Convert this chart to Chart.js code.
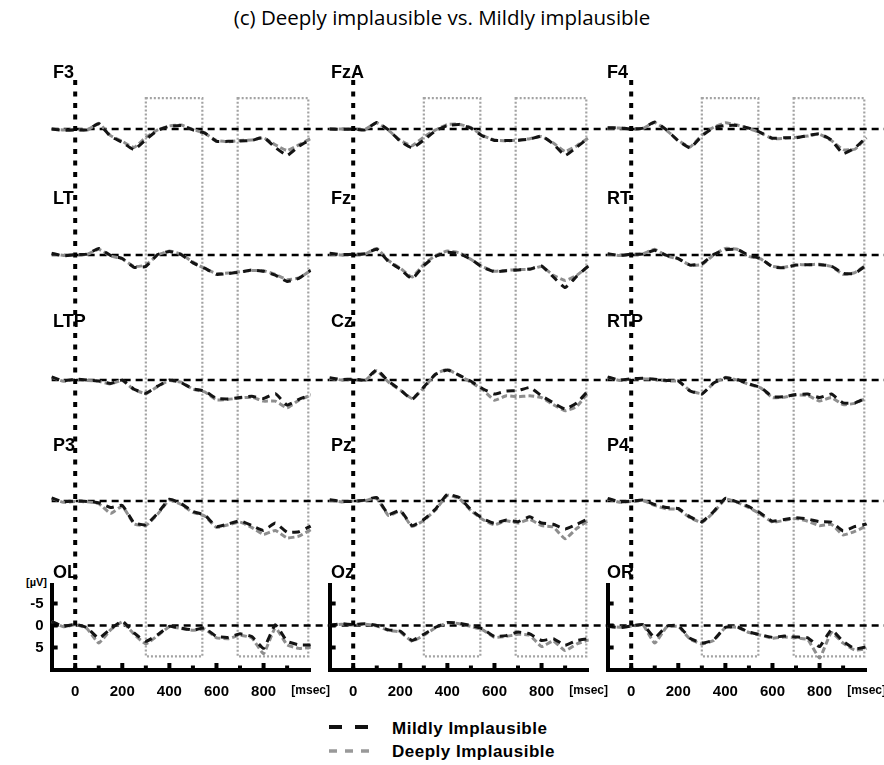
<!DOCTYPE html>
<html>
<head>
<meta charset="utf-8">
<script src="https://cdn.jsdelivr.net/npm/chart.js@4.4.0/dist/chart.umd.min.js"></script>
<style>
  html, body { margin: 0; padding: 0; background: #fff; }
  #page { position: relative; width: 884px; height: 765px; overflow: hidden; background: #fff; }
  #page canvas { position: absolute; left: 0; top: 0; }
  .txt { position: absolute; color: #000; white-space: nowrap; }
  .chan { font: bold 18px "Liberation Sans", Arial, sans-serif; line-height: 18px; }
  #title { left: 0; width: 884px; top: 7px; text-align: center; font: 20.5px "Open Sans", sans-serif; line-height: 20.5px; }
  #unit { left: 26px; top: 577px; font: bold 11px "Liberation Sans", Arial, sans-serif; line-height: 11px; }
  .leg { font: bold 17px "Liberation Sans", Arial, sans-serif; line-height: 17px; letter-spacing: 0.5px; }
  .swatch { position: absolute; }
</style>
</head>
<body>
<div id="page">
  <div id="title" class="txt">(c) Deeply implausible vs. Mildly implausible</div>
  <div id="unit" class="txt">[µV]</div>
  <svg class="swatch" style="left:329px;top:723px" width="42" height="8"><line x1="0" y1="4" x2="42" y2="4" stroke="#111" stroke-width="4" stroke-dasharray="13 13"/></svg>
  <svg class="swatch" style="left:329px;top:747px" width="42" height="8"><line x1="0" y1="4" x2="42" y2="4" stroke="#999" stroke-width="3.5" stroke-dasharray="8 8"/></svg>
  <div class="txt leg" style="left:392px;top:720px">Mildly Implausible</div>
  <div class="txt leg" style="left:392px;top:743px">Deeply Implausible</div>
</div>
<script>
// time axis (ms) shared by every channel
const time = [-100, -50, 0, 50, 100, 150, 200, 250, 300, 350, 400, 450, 500, 550, 600, 650, 700, 750, 800, 850, 900, 950, 1000, 1050];

// amplitudes in µV (positive plotted downward)
const mildF3  = [0, 0.3, 0.2, 0.2, -1.2, 1.7, 3.0, 4.7, 2.4, 0.3, -0.6, -0.8, 0.2, 0.9, 2.8, 2.8, 2.7, 2.6, 1.9, 4.2, 6.0, 3.9, 2.4, 1.4];
const deepF3  = [0, 0.2, 0.1, 0.3, -1.3, 1.5, 2.8, 4.2, 1.9, 0.2, -0.7, -0.9, 0.1, 1.0, 2.6, 2.9, 2.6, 2.5, 2.0, 3.6, 4.9, 3.6, 2.2, 1.4];
const mildFzA = [0, 0.1, 0, 0.2, -1.5, 0.2, 2.8, 4.3, 2.5, 0.4, -0.8, -1.0, -0.2, 1.6, 2.6, 2.6, 2.6, 2.3, 1.6, 3.4, 6.0, 4.1, 2.0, 0];
const deepFzA = [0, 0, 0.1, 0.1, -1.4, 0.3, 2.6, 3.8, 1.8, 0.2, -1.0, -1.1, -0.3, 1.5, 2.5, 2.7, 2.5, 2.2, 1.7, 3.2, 5.1, 3.8, 2.0, 0];
const mildF4  = [-0.3, -0.3, 0, -0.2, -1.6, 0.2, 2.7, 4.3, 1.6, -0.3, -0.8, -0.8, -0.2, 0.8, 2.1, 2.0, 2.0, 1.5, 1.1, 2.5, 5.6, 4.3, 1.9, 1.1];
const deepF4  = [-0.2, -0.2, 0.1, -0.1, -1.5, 0.3, 2.6, 4.1, 1.4, -0.4, -1.4, -0.9, -0.1, 0.9, 2.2, 2.1, 1.9, 1.6, 1.2, 2.6, 4.7, 4.6, 2.0, 1.1];

const mildLT  = [-0.4, 0.2, -0.1, -0.2, -1.5, 0.1, 0.8, 2.8, 2.6, -0.1, -0.8, -0.1, 1.8, 3.0, 4.4, 4.2, 3.9, 3.4, 3.7, 4.6, 6.0, 5.3, 3.5, 3.1];
const deepLT  = [-0.3, 0.1, 0, -0.1, -1.3, 0.2, 0.9, 2.6, 2.3, 0, -0.9, -0.2, 1.6, 3.1, 4.2, 4.1, 3.8, 3.5, 3.6, 4.4, 5.6, 5.2, 3.6, 3.0];
const mildFz  = [-0.4, -0.1, -0.1, -0.3, -1.3, 1.5, 3.2, 5.4, 2.4, 0.3, -0.6, -0.3, 1.0, 2.8, 3.8, 3.6, 3.4, 3.2, 2.5, 5.0, 7.4, 4.8, 2.5, 1.7];
const deepFz  = [-0.3, 0, -0.2, -0.2, -1.5, 1.3, 3.0, 5.0, 2.1, 0.1, -0.9, -0.5, 1.0, 2.7, 3.7, 3.5, 3.3, 3.3, 2.6, 4.6, 5.8, 4.6, 2.5, 1.7];
const mildRT  = [-0.3, 0.1, -0.2, -0.2, -1.1, 0.1, 0.8, 2.3, 2.0, -0.1, -1.2, -1.3, 0.1, 0.8, 2.7, 2.9, 2.3, 2.2, 2.2, 2.5, 4.2, 4.2, 2.3, 1.6];
const deepRT  = [-0.2, 0.1, -0.1, -0.3, -1.3, 0.2, 0.9, 2.3, 2.2, 0, -1.5, -1.3, 0.3, 0.9, 2.6, 2.8, 2.2, 2.2, 2.1, 2.6, 4.4, 4.0, 2.2, 1.6];

const mildLTP = [-0.7, 0.2, -0.2, 0, 0.2, 0.8, 0, 2.1, 3.0, 1.4, 0, 0.6, 2.0, 2.5, 4.2, 4.3, 4.0, 3.7, 4.2, 3.1, 5.7, 4.4, 3.4, 3.3];
const deepLTP = [-0.6, 0.3, -0.1, 0.1, 0.3, 0.9, 0.1, 2.2, 3.1, 1.5, 0.1, 0.5, 2.1, 2.7, 4.5, 4.4, 4.1, 3.9, 4.8, 4.8, 6.3, 4.6, 3.5, 3.3];
const mildCz  = [-0.5, -0.1, -0.2, 0, -2.3, 0.3, 2.2, 4.4, 1.6, -1.3, -2.3, -1.1, 0.3, 2.0, 3.2, 2.5, 2.4, 1.7, 3.6, 5.2, 6.6, 5.2, 2.4, 1.6];
const deepCz  = [-0.4, 0, -0.1, 0.1, -2.1, 0.5, 2.3, 4.2, 1.8, -1.4, -2.4, -1.0, 0.5, 2.2, 4.6, 3.6, 3.8, 3.6, 4.0, 5.6, 7.0, 6.0, 2.8, 1.8];
const mildRTP = [-0.7, 0, -0.3, -0.4, -0.2, 0.1, 0.2, 2.5, 3.2, 0.7, -0.5, -0.1, 0.9, 1.7, 3.8, 3.8, 3.3, 3.2, 4.0, 3.2, 5.2, 5.2, 4.0, 3.0];
const deepRTP = [-0.6, 0.1, -0.2, -0.3, -0.1, 0.2, 0.3, 2.4, 3.1, 0.8, -0.6, 0, 1.0, 1.8, 4.0, 3.9, 3.4, 3.5, 4.8, 4.0, 5.6, 5.3, 4.1, 3.1];

const mildP3  = [-0.7, 0.2, 0, 0.1, 0.4, 1.5, 1.0, 5.0, 5.4, 2.8, -0.4, 0.6, 2.4, 3.2, 5.8, 5.2, 4.5, 5.6, 6.7, 5.0, 7.1, 7.0, 5.7, 4.1];
const deepP3  = [-0.6, 0.3, 0.1, 0.2, 0.6, 2.8, 1.2, 5.2, 5.6, 3.0, -0.2, 0.8, 2.6, 3.4, 6.0, 5.4, 4.8, 6.0, 7.6, 6.7, 8.4, 8.0, 6.5, 4.3];
const mildPz  = [-0.3, 0.1, 0.1, -0.2, -0.8, 3.1, 2.1, 5.6, 4.2, 1.8, -1.5, -0.8, 2.0, 4.0, 5.1, 4.3, 4.7, 3.6, 5.0, 5.3, 6.4, 5.3, 4.0, 3.1];
const deepPz  = [-0.2, 0.2, 0, -0.1, -0.6, 3.3, 2.3, 5.8, 4.4, 2.0, -1.3, -0.6, 2.2, 4.2, 5.4, 4.5, 5.0, 4.2, 5.6, 5.9, 8.6, 6.2, 4.4, 3.3];
const mildP4  = [-0.6, 0.2, 0, -0.2, 0.8, 1.5, 1.7, 3.6, 4.7, 2.4, -0.6, 0.2, 1.3, 2.8, 4.6, 4.2, 3.8, 4.1, 4.7, 4.8, 6.8, 5.8, 5.2, 3.2];
const deepP4  = [-0.5, 0.3, 0.1, -0.1, 1.0, 1.8, 1.9, 3.8, 4.9, 2.6, -0.4, 0.3, 1.5, 3.0, 4.8, 4.4, 4.0, 4.6, 5.6, 5.3, 7.7, 6.9, 5.6, 3.4];

const mildOL  = [-0.9, 0.2, -0.3, 0.5, 2.9, 0.8, -1.0, 1.7, 3.6, 2.1, 0.2, 0.6, 1.0, 0.6, 2.5, 2.7, 1.9, 2.5, 5.2, -0.2, 3.6, 4.4, 4.4, 3.3];
const deepOL  = [-0.9, 0.3, -0.2, 0.7, 4.0, 1.0, -0.8, 2.0, 4.2, 2.3, 0.3, 0.7, 1.1, 0.8, 2.8, 3.0, 2.2, 2.8, 6.4, 0.5, 4.4, 5.2, 4.9, 3.5];
const mildOz  = [0, -0.4, -0.2, -0.4, 0, 1.0, 1.3, 3.4, 2.0, 0.4, -0.7, -0.5, 0, 0.8, 2.5, 2.3, 1.5, 1.9, 3.4, 3.0, 4.5, 3.4, 3.0, 3.4];
const deepOz  = [0, -0.3, -0.1, -0.3, 0.1, 1.1, 1.5, 3.6, 2.2, 0.5, -0.6, -0.4, 0.2, 1.0, 2.7, 2.5, 2.0, 2.2, 4.8, 3.5, 5.7, 4.2, 3.3, 3.4];
const mildOR  = [0.2, 0.5, 0.1, -0.2, 2.8, 0.2, 0, 2.9, 4.0, 3.3, 0.4, 0.3, 1.5, 2.1, 2.7, 2.4, 2.6, 2.8, 4.8, 1.0, 3.6, 5.3, 4.8, 3.5];
const deepOR  = [0.2, 0.4, 0.2, -0.1, 4.0, 0.4, 0.2, 3.1, 4.2, 3.4, 0.5, 0.4, 1.6, 2.2, 2.9, 2.6, 2.8, 3.2, 7.4, 1.6, 4.0, 5.6, 5.2, 3.6];

// layout of the 3 x 5 grid of channels
const columns = [
  ['F3', 'LT', 'LTP', 'P3', 'OL'],
  ['FzA', 'Fz', 'Cz', 'Pz', 'Oz'],
  ['F4', 'RT', 'RTP', 'P4', 'OR']
];
const mild = { F3: mildF3, FzA: mildFzA, F4: mildF4, LT: mildLT, Fz: mildFz, RT: mildRT, LTP: mildLTP, Cz: mildCz, RTP: mildRTP, P3: mildP3, Pz: mildPz, P4: mildP4, OL: mildOL, Oz: mildOz, OR: mildOR };
const deep = { F3: deepF3, FzA: deepFzA, F4: deepF4, LT: deepLT, Fz: deepFz, RT: deepRT, LTP: deepLTP, Cz: deepCz, RTP: deepRTP, P3: deepP3, Pz: deepPz, P4: deepP4, OL: deepOL, Oz: deepOz, OR: deepOR };

const windows = [[300, 540], [690, 990]];   // analysis windows (ms)
const windowTop = -7, windowBottom = 7;     // µV on first / last row
const xLabelValues = [0, 200, 400, 600, 800];
const unitLabel = '[msec]';
const yTickValues = [-5, 0, 5];

// pixel layout
const W = 884, H = 765;
const FONT = '"Liberation Sans", Arial, sans-serif';
const PX_PER_MS = 259 / 1100, PX_PER_UV = 4.4;
const colZero = [75.2, 353.2, 631.2];
const colLabelX = [53, 331, 607];
const rowLabelCap = [65, 191, 314, 438, 565];
const areaTop = 80, areaBottom = 670, yAxisW = 40, xAxisH = 30;
const rowH = [126.25, 126.25, 126.25, 126.25, 85];
const rowZero = [129, 255, 380, 501, 625.5];

const page = document.getElementById('page');

const decor = {
  id: 'decor',
  beforeDatasetsDraw(chart) {
    const { ctx, scales } = chart;
    const x = scales.x;
    ctx.save();
    // gray dotted analysis windows spanning all rows
    ctx.strokeStyle = '#a3a3a3';
    ctx.lineWidth = 2.2;
    ctx.setLineDash([2, 2]);
    const top = scales.y0.getPixelForValue(windowTop);
    const bottom = scales.y4.getPixelForValue(windowBottom);
    windows.forEach(([a, b]) => {
      const xa = x.getPixelForValue(a), xb = x.getPixelForValue(b);
      ctx.strokeRect(xa, top, xb - xa, bottom - top);
    });
    // dashed zero lines
    ctx.strokeStyle = '#000';
    ctx.lineWidth = 2.5;
    ctx.setLineDash([7, 5]);
    rowH.forEach((h, r) => {
      const y = scales['y' + r].getPixelForValue(0);
      ctx.beginPath();
      ctx.moveTo(x.getPixelForValue(-100), y);
      ctx.lineTo(x.getPixelForValue(1080), y);
      ctx.stroke();
    });
    ctx.restore();
  },
  afterDatasetsDraw(chart) {
    const { ctx, scales, chartArea } = chart;
    const x = scales.x;
    ctx.save();
    // stimulus onset
    const x0 = x.getPixelForValue(0);
    ctx.strokeStyle = '#000';
    ctx.lineWidth = 4;
    ctx.setLineDash([5, 6.5]);
    ctx.beginPath();
    ctx.moveTo(x0, chartArea.top);
    ctx.lineTo(x0, chartArea.bottom);
    ctx.stroke();
    // inward tick marks
    ctx.setLineDash([]);
    x.ticks.forEach(t => {
      if (t.value <= -100 || t.value >= 1000) return;
      const px = x.getPixelForValue(t.value);
      const len = t.value % 200 === 0 ? 7 : 4.5;
      ctx.beginPath();
      ctx.moveTo(px, chartArea.bottom);
      ctx.lineTo(px, chartArea.bottom - len);
      ctx.stroke();
    });
    const y = scales.y4;
    y.ticks.forEach(t => {
      const py = y.getPixelForValue(t.value);
      ctx.beginPath();
      ctx.moveTo(chartArea.left, py);
      ctx.lineTo(chartArea.left + 6, py);
      ctx.stroke();
    });
    ctx.restore();
  }
};

function buildScales(c) {
  const scales = {
    x: {
      type: 'linear', min: -100, max: 1000, position: 'bottom',
      afterBuildTicks: s => {
        s.ticks = [];
        for (let v = -100; v <= 1000; v += 100) s.ticks.push({ value: v });
      },
      afterFit: s => { s.height = xAxisH; s.paddingLeft = 0; s.paddingRight = 0; },
      grid: { display: false, drawTicks: false },
      border: { display: true, width: 4, color: '#000' },
      ticks: {
        autoSkip: false, maxRotation: 0, padding: 13, color: '#000',
        callback: v => v === 1000 ? unitLabel : (xLabelValues.includes(v) ? String(v) : ''),
        font: ctx => ({ family: FONT, weight: 'bold', size: ctx.tick && ctx.tick.value === 1000 ? 12 : 15 })
      }
    }
  };
  let top = areaTop;
  rowH.forEach((h, r) => {
    const min = -(rowZero[r] - top) / PX_PER_UV;
    const last = r === rowH.length - 1;
    scales['y' + r] = {
      type: 'linear', reverse: true, position: 'left',
      stack: 'rows', stackWeight: h, weight: 10 - r,
      min: min, max: min + h / PX_PER_UV,
      afterBuildTicks: s => { s.ticks = last ? yTickValues.map(v => ({ value: v })) : []; },
      afterFit: s => { s.width = yAxisW; s.paddingTop = 0; s.paddingBottom = 0; },
      grid: { display: false, drawTicks: false },
      border: { display: last, width: 4, color: '#000' },
      ticks: {
        display: last && c === 0, padding: 8, color: '#000',
        font: { family: FONT, weight: 'bold', size: 15 }
      }
    };
    top += h;
  });
  return scales;
}

function buildDatasets(names) {
  const sets = [];
  names.forEach((name, r) => {
    sets.push({
      label: 'Mildly Implausible',
      data: time.map((t, i) => ({ x: t, y: mild[name][i] })),
      yAxisID: 'y' + r, xAxisID: 'x',
      borderColor: '#141414', borderWidth: 3, borderDash: [8, 6],
      pointRadius: 0, tension: 0.12, clip: false, order: 0
    });
    sets.push({
      label: 'Deeply Implausible',
      data: time.map((t, i) => ({ x: t, y: deep[name][i] })),
      yAxisID: 'y' + r, xAxisID: 'x',
      borderColor: '#8e8e8e', borderWidth: 3, borderDash: [6, 3],
      pointRadius: 0, tension: 0.12, clip: false, order: 1
    });
  });
  return sets;
}

columns.forEach((names, c) => {
  const canvas = document.createElement('canvas');
  canvas.width = W;
  canvas.height = H;
  page.appendChild(canvas);

  const left = colZero[c] - 100 * PX_PER_MS;
  const right = colZero[c] + 1000 * PX_PER_MS;
  new Chart(canvas.getContext('2d'), {
    type: 'line',
    data: { datasets: buildDatasets(names) },
    options: {
      responsive: false,
      animation: false,
      events: [],
      layout: { padding: { left: left - yAxisW, right: W - right, top: areaTop, bottom: H - areaBottom - xAxisH } },
      plugins: { legend: { display: false }, tooltip: { enabled: false } },
      scales: buildScales(c)
    },
    plugins: [decor]
  });

  // channel names
  names.forEach((name, r) => {
    const d = document.createElement('div');
    d.className = 'txt chan';
    d.textContent = name;
    d.style.left = colLabelX[c] + 'px';
    d.style.top = (rowLabelCap[r] - 2.4) + 'px';
    page.appendChild(d);
  });
});
</script>
</body>
</html>
